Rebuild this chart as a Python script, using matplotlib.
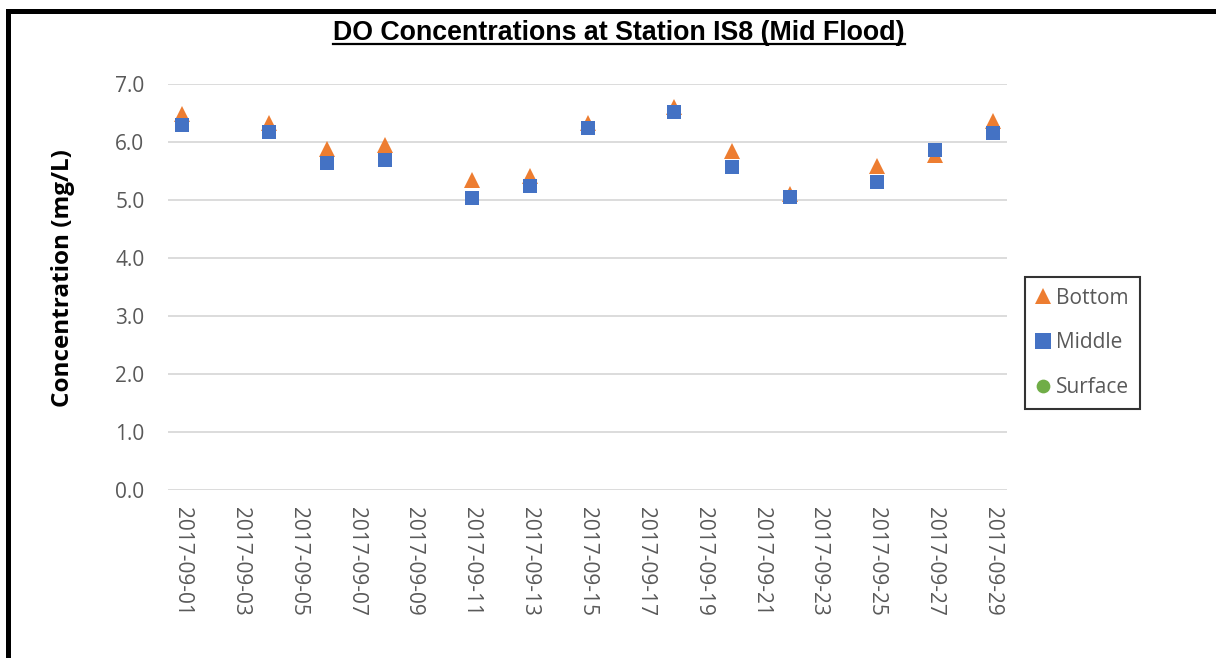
import matplotlib
matplotlib.use("Agg")
import matplotlib.pyplot as plt
import matplotlib.dates as mdates
from matplotlib.lines import Line2D
import numpy as np
import datetime as dt

dates = ["2017-09-01", "2017-09-04", "2017-09-06", "2017-09-08", "2017-09-11",
         "2017-09-13", "2017-09-15", "2017-09-18", "2017-09-20", "2017-09-22",
         "2017-09-25", "2017-09-27", "2017-09-29"]
bottom = [6.48, 6.33, 5.88, 5.95, 5.35, 5.42, 6.32, 6.61, 5.84, 5.10, 5.58, 5.78, 6.37]
middle = [6.29, 6.17, 5.64, 5.69, 5.03, 5.25, 6.24, 6.52, 5.57, 5.05, 5.31, 5.87, 6.15]
surface = [np.nan] * len(dates)

title = "DO Concentrations at Station IS8 (Mid Flood)"
ylabel = "Concentration (mg/L)"
yticks = [0.0, 1.0, 2.0, 3.0, 4.0, 5.0, 6.0, 7.0]

x = [dt.datetime.strptime(d, "%Y-%m-%d") for d in dates]

fig = plt.figure(figsize=(12.16, 6.58), dpi=100)
fig.patch.set_facecolor("white")
ax = fig.add_axes([168/1216, 1-490/658, (1007-168)/1216, (490-84)/658])

gray = "#595959"
ax.plot(x, bottom, linestyle="none", marker="^", markersize=11, color="#ED7D31",
        markeredgewidth=0, label="Bottom", zorder=3)
ax.plot(x, middle, linestyle="none", marker="s", markersize=10, color="#4472C4",
        markeredgewidth=0, label="Middle", zorder=4)
ax.plot(x, surface, linestyle="none", marker="o", markersize=9, color="#70AD47",
        markeredgewidth=0, label="Surface", zorder=5)

ax.set_xlim(dt.datetime(2017, 8, 31, 12), dt.datetime(2017, 9, 29, 12))
ax.set_ylim(0, 7)
ax.set_yticks(yticks)
ax.set_yticklabels([f"{v:.1f}" for v in yticks])
ax.xaxis.set_major_locator(mdates.DayLocator(bymonthday=range(1, 31, 2)))
ax.xaxis.set_major_formatter(mdates.DateFormatter("%Y-%m-%d"))

for s in ax.spines.values():
    s.set_visible(False)
ax.grid(axis="y", color="#D9D9D9", linewidth=1.3)
ax.set_axisbelow(True)
ax.tick_params(axis="both", length=0, colors=gray, labelsize=15)
ax.tick_params(axis="y", pad=17)
ax.tick_params(axis="x", pad=12)
for lab in ax.get_yticklabels():
    lab.set_fontfamily("Open Sans")
for lab in ax.get_xticklabels():
    lab.set_fontfamily("Open Sans")
    lab.set_rotation(-90)
    lab.set_va("top")
    lab.set_ha("center")

ax.set_ylabel(ylabel, fontsize=17.5, fontweight="bold", fontfamily="Open Sans", color="black")
ax.yaxis.set_label_coords((75-168)/839, (490-278)/406)

t = fig.text(619/1216, 1-33/658, title, ha="center", va="center", fontsize=19.3,
             fontweight="bold", fontfamily="Liberation Sans", color="black")

leg = ax.legend(loc="center left", bbox_to_anchor=(1025/1216, 1-343/658),
                bbox_transform=fig.transFigure, frameon=True, fancybox=False,
                prop={"family": "Open Sans", "size": 15}, labelspacing=1.15,
                handlelength=0.7, handletextpad=0.3, borderpad=0.5, borderaxespad=0,
                markerscale=1.1)
leg.get_frame().set_edgecolor("black")
leg.get_frame().set_linewidth(1.5)
for txt in leg.get_texts():
    txt.set_color(gray)

# outer border (left and top)
fig.add_artist(Line2D([7.5/1216, 7.5/1216], [0, 1-10.5/658], transform=fig.transFigure,
                      color="black", linewidth=3.6, solid_capstyle="projecting"))
fig.add_artist(Line2D([7.5/1216, 1], [1-10.5/658, 1-10.5/658], transform=fig.transFigure,
                      color="black", linewidth=3.6, solid_capstyle="projecting"))

# underline title
fig.canvas.draw()
bb = t.get_window_extent().transformed(fig.transFigure.inverted())
fig.add_artist(Line2D([bb.x0, bb.x1], [bb.y0 + 0.003, bb.y0 + 0.003], transform=fig.transFigure,
                      color="black", linewidth=1.6))

fig.savefig("out.png", dpi=100, facecolor="white")
